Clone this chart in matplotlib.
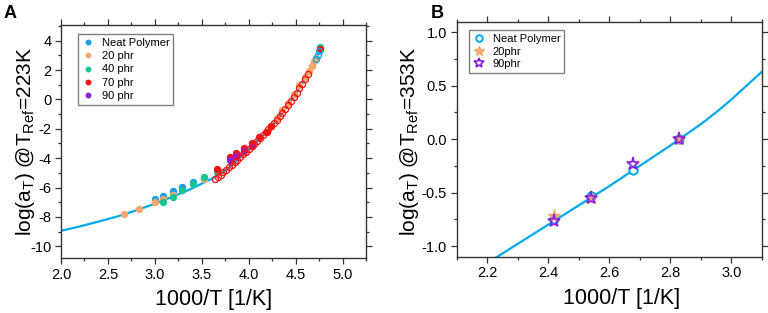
import matplotlib
matplotlib.use("Agg")
import matplotlib.pyplot as plt
from matplotlib.ticker import MultipleLocator
from matplotlib.lines import Line2D

plt.rcParams['font.family'] = ['Liberation Sans', 'DejaVu Sans']
plt.rcParams['mathtext.fontset'] = 'custom'
plt.rcParams['mathtext.rm'] = 'Liberation Sans'
plt.rcParams['mathtext.it'] = 'Liberation Sans:italic'

# ---------------- Panel A data ----------------
fitA_x = [2.0, 2.2, 2.4, 2.6, 2.8, 3.0, 3.2, 3.4, 3.6, 3.7, 3.8, 3.9, 4.0, 4.1,
          4.2, 4.3, 4.4, 4.5, 4.6, 4.7, 4.77]
fitA_y = [-8.95, -8.65, -8.32, -7.97, -7.56, -7.10, -6.60, -6.05, -5.42, -5.05,
          -4.60, -4.00, -3.40, -2.78, -2.12, -1.40, -0.55, 0.36, 1.38, 2.60, 3.45]

open70_x = [3.64, 3.67, 3.70, 3.73, 3.76, 3.79, 3.82, 3.85, 3.88, 3.91, 3.94, 3.97,
            4.00, 4.03, 4.06, 4.09, 4.12, 4.15, 4.18, 4.21, 4.24, 4.27, 4.30, 4.33,
            4.36, 4.39, 4.42, 4.45, 4.48, 4.51, 4.54, 4.57, 4.60, 4.63]
open70_y = [-5.45, -5.29, -5.13, -4.96, -4.80, -4.63, -4.45, -4.28, -4.10, -3.92,
            -3.74, -3.56, -3.38, -3.20, -3.02, -2.83, -2.64, -2.45, -2.25, -2.04,
            -1.82, -1.60, -1.38, -1.15, -0.90, -0.64, -0.38, -0.11, 0.17, 0.46,
            0.75, 1.06, 1.39, 1.73]

openNeat_x = [4.72, 4.74, 4.75]
openNeat_y = [2.75, 3.05, 3.30]

neat_x = [3.00, 3.09, 3.19, 3.29, 3.41, 3.52, 3.80]
neat_y = [-6.75, -6.55, -6.25, -5.98, -5.64, -5.32, -4.02]

p20_x = [2.67, 2.83, 3.00, 3.09, 3.19, 3.52, 4.30, 4.36, 4.42, 4.48, 4.54, 4.60,
         4.64, 4.67, 4.70, 4.72]
p20_y = [-7.77, -7.46, -7.00, -6.78, -6.50, -5.40, -1.25, -0.75, -0.22, 0.35,
         0.95, 1.55, 1.95, 2.30, 2.60, 2.85]

p40_x = [3.09, 3.19, 3.29, 3.41, 3.52, 3.66, 4.76]
p40_y = [-6.98, -6.64, -6.18, -5.77, -5.25, -4.95, 3.60]

p70_x = [3.66, 3.80, 3.87, 3.95, 4.03, 4.11, 4.19, 4.24, 4.76]
p70_y = [-4.73, -3.91, -3.62, -3.30, -2.96, -2.55, -2.21, -1.82, 3.45]

p90_x = [3.80, 3.87, 3.95, 4.03]
p90_y = [-4.12, -3.84, -3.50, -3.15]

labelsA = ["Neat Polymer", "20 phr", "40 phr", "70 phr", "90 phr"]
xticksA = [2.0, 2.5, 3.0, 3.5, 4.0, 4.5, 5.0]
yticksA = [-10, -8, -6, -4, -2, 0, 2, 4]

# ---------------- Panel B data ----------------
fitB_x = [2.20, 2.30, 2.40, 2.50, 2.60, 2.70, 2.80, 2.90, 2.95, 3.00, 3.05, 3.10]
fitB_y = [-1.16, -0.98, -0.80, -0.62, -0.44, -0.25, -0.06, 0.14, 0.25, 0.37,
          0.50, 0.63]

neatB_x = [2.418, 2.541, 2.679, 2.830]
neatB_y = [-0.75, -0.53, -0.29, 0.0]
p20B_x = [2.418, 2.541, 2.830]
p20B_y = [-0.72, -0.55, 0.0]
p90B_x = [2.418, 2.541, 2.679, 2.830]
p90B_y = [-0.77, -0.55, -0.23, 0.0]

labelsB = ["Neat Polymer", "20phr", "90phr"]
xticksB = [2.2, 2.4, 2.6, 2.8, 3.0]
yticksB = [-1.0, -0.5, 0.0, 0.5, 1.0]

# ---------------- styling ----------------
c_blue = '#1a9fe6'
c_line = '#00a9ec'
c_orange = '#f6a76c'
c_green = '#17c593'
c_red = '#ff1010'
c_purple = '#8a1fe0'

W, H = 768, 313
fig = plt.figure(figsize=(W / 100, H / 100), dpi=100)

def box(l, t, r, b):
    return [l / W, 1 - b / H, (r - l) / W, (b - t) / H]

def style_axes(ax):
    for s in ax.spines.values():
        s.set_linewidth(1.0)
        s.set_color('#333333')
    ax.tick_params(which='both', direction='out', top=True, right=True,
                   labeltop=False, labelright=False, width=0.9, colors='#333333',
                   labelcolor='black')
    ax.tick_params(which='major', length=4.5, labelsize=10.5, pad=2.5)
    ax.tick_params(which='minor', length=2.5)

# Panel A
axA = fig.add_axes(box(61, 25, 366, 258))
axA.plot(fitA_x, fitA_y, color=c_line, lw=1.6, zorder=1)
ms_f = 4.3
for xs, ys, c, lab in [(neat_x, neat_y, c_blue, labelsA[0]),
                       (p20_x, p20_y, c_orange, labelsA[1]),
                       (p40_x, p40_y, c_green, labelsA[2]),
                       (p70_x, p70_y, c_red, labelsA[3]),
                       (p90_x, p90_y, c_purple, labelsA[4])]:
    axA.plot(xs, ys, ls='none', marker='o', ms=ms_f, color=c, mec=c, zorder=3)
axA.plot(open70_x, open70_y, ls='none', marker='o', ms=4.4, mfc='none',
         mec=c_red, mew=0.9, zorder=4)
axA.plot(openNeat_x, openNeat_y, ls='none', marker='o', ms=4.4, mfc='none',
         mec=c_line, mew=0.9, zorder=4)

axA.set_xlim(2.0, 5.25)
axA.set_ylim(-10.8, 5.07)
axA.set_xticks(xticksA)
axA.set_yticks(yticksA)
axA.xaxis.set_minor_locator(MultipleLocator(0.25))
axA.yaxis.set_minor_locator(MultipleLocator(1))
axA.set_xticklabels([f"{v:.1f}" for v in xticksA])
axA.set_yticklabels([str(v) for v in yticksA])
style_axes(axA)
axA.set_xlabel("1000/T [1/K]", fontsize=15.5)
axA.xaxis.set_label_coords(0.5, -0.133)
axA.set_ylabel(r"log(a$_\mathregular{T}$) @T$_\mathregular{Ref}$=223K", fontsize=15)
axA.yaxis.set_label_coords(-0.078, 0.5)

handlesA = [Line2D([], [], ls='none', marker='o', ms=3.2, color=c, mec=c)
            for c in [c_blue, c_orange, c_green, c_red, c_purple]]
legA = axA.legend(handlesA, labelsA, loc='upper left', bbox_to_anchor=(0.055, 0.962),
                  fontsize=8, frameon=True, fancybox=False, edgecolor='#808080',
                  framealpha=1, borderpad=0.35, labelspacing=0.3,
                  handlelength=1.2, handletextpad=0.6, borderaxespad=0)
legA.get_frame().set_linewidth(1.0)

fig.text(10 / W, 1 - 14 / H, "A", fontsize=13, fontweight='bold', ha='center', va='center')

# Panel B
axB = fig.add_axes(box(456.7, 21.7, 761.7, 256.7))
axB.plot(fitB_x, fitB_y, color=c_line, lw=1.6, zorder=1)
axB.plot(neatB_x, neatB_y, ls='none', marker='o', ms=6, mfc='white', mec=c_line,
         mew=1.4, zorder=2, label=labelsB[0])
axB.plot(p20B_x, p20B_y, ls='none', marker='*', ms=9.5, color=c_orange, mec=c_orange,
         zorder=3, label=labelsB[1])
axB.plot(p90B_x, p90B_y, ls='none', marker='*', ms=9.5, mfc='none', mec=c_purple,
         mew=1.2, zorder=4, label=labelsB[2])
axB.set_xlim(2.1, 3.1)
axB.set_ylim(-1.1, 1.1)
axB.set_xticks(xticksB)
axB.set_yticks(yticksB)
axB.xaxis.set_minor_locator(MultipleLocator(0.1))
axB.yaxis.set_minor_locator(MultipleLocator(0.25))
axB.set_xticklabels([f"{v:.1f}" for v in xticksB])
axB.set_yticklabels([f"{v:.1f}" for v in yticksB])
style_axes(axB)
axB.set_xlabel("1000/T [1/K]", fontsize=15.5)
axB.xaxis.set_label_coords(0.54, -0.135)
axB.set_ylabel(r"log(a$_\mathregular{T}$) @T$_\mathregular{Ref}$=353K", fontsize=15)
axB.yaxis.set_label_coords(-0.118, 0.49)

legB = axB.legend(loc='upper left', bbox_to_anchor=(0.04, 0.965), fontsize=8,
                  frameon=True, fancybox=False, edgecolor='#808080', framealpha=1,
                  borderpad=0.35, labelspacing=0.25, handlelength=1.2,
                  handletextpad=0.6, borderaxespad=0, markerscale=0.8)
legB.get_frame().set_linewidth(1.0)

fig.text(437 / W, 1 - 14 / H, "B", fontsize=13, fontweight='bold', ha='center', va='center')

fig.savefig("out.png", dpi=100)
